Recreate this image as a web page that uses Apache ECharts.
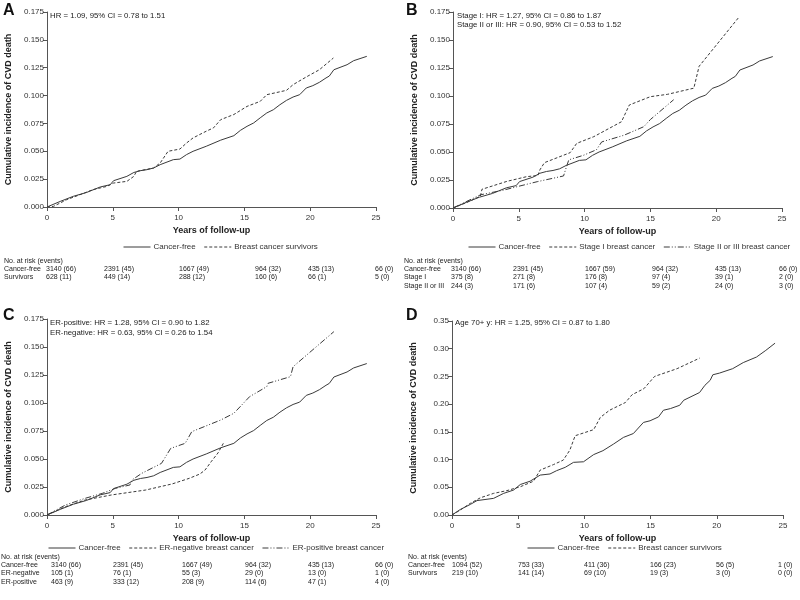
<!DOCTYPE html>
<html>
<head>
<meta charset="utf-8">
<script src="https://cdn.jsdelivr.net/npm/echarts@6/dist/echarts.min.js"></script>
<style>html,body{margin:0;padding:0;background:#fff}#c{width:800px;height:600px}</style>
</head>
<body>
<div id="c"></div>
<script>
// ---------------- DATA ----------------
const xTicks = [0, 5, 10, 15, 20, 25];

const cancerFree = [[0,0],[1.0,0.005],[2,0.0096],[3,0.013],[4.05,0.018],[4.8,0.020],[5.06,0.0236],[6.07,0.0275],[6.6,0.031],[7.1,0.0326],[7.6,0.0335],[8.1,0.035],[8.6,0.038],[9.6,0.0425],[10.1,0.043],[10.6,0.047],[11.1,0.050],[12.1,0.0545],[13.2,0.060],[14.2,0.064],[14.7,0.0688],[15.2,0.0724],[15.7,0.0754],[16.2,0.080],[16.7,0.0844],[17.2,0.0873],[17.7,0.0918],[18.2,0.0957],[18.7,0.0987],[19.2,0.1008],[19.7,0.1068],[20.2,0.1089],[20.7,0.1119],[21.2,0.1158],[21.45,0.1175],[21.8,0.1232],[22.8,0.1277],[23.3,0.1313],[24.3,0.1352]];

const survivorsA = [[0,0],[0.5,0.0006],[1.5,0.0066],[2.5,0.011],[3.5,0.0156],[4.55,0.0185],[5.06,0.0215],[6.07,0.023],[6.6,0.0275],[6.8,0.032],[8.1,0.035],[8.6,0.0395],[9.2,0.050],[10.1,0.052],[10.6,0.0574],[11.1,0.062],[12.1,0.068],[12.65,0.071],[13.2,0.0784],[14.2,0.083],[15.2,0.0903],[16.2,0.0948],[16.7,0.1008],[18.2,0.1047],[18.7,0.1098],[19.7,0.1167],[20.7,0.1232],[21.76,0.1337]];

const stageI = [[0,0],[1.06,0.005],[2.08,0.0105],[2.2,0.0167],[4.1,0.0238],[5.6,0.028],[6.45,0.029],[6.6,0.034],[6.95,0.0405],[8.9,0.0494],[9.4,0.0577],[10.7,0.0637],[12.8,0.077],[13.4,0.092],[15.0,0.0994],[16.3,0.1015],[18.3,0.107],[18.7,0.1265],[21.7,0.170]];

const stageII = [[0,0],[1.06,0.006],[2.1,0.0118],[3.85,0.016],[4.86,0.019],[6.4,0.0235],[8.4,0.0286],[8.6,0.036],[8.8,0.043],[9.9,0.047],[10.9,0.052],[11.3,0.059],[13.0,0.065],[14.5,0.0726],[15.0,0.079],[16.77,0.0967]];

const erNegative = [[0,0],[1.0,0.0054],[1.4,0.0074],[2.9,0.0134],[4.9,0.0179],[7.5,0.0223],[9.5,0.0277],[10.8,0.0327],[11.6,0.0365],[12.0,0.040],[12.5,0.048],[13.0,0.0555],[13.4,0.064]];

const erPositive = [[0,0],[1.4,0.0089],[2.9,0.0149],[4.2,0.0193],[5.2,0.0238],[6.3,0.0268],[6.45,0.0312],[7.2,0.0372],[8.7,0.0461],[9.4,0.0595],[10.5,0.064],[11.0,0.0744],[13.2,0.0848],[14.2,0.0908],[15.4,0.1057],[16.7,0.1146],[16.8,0.1176],[18.5,0.1235],[18.7,0.1324],[21.8,0.1637]];

const cancerFreeD = [[0,0],[0.63,0.010],[1.38,0.019],[1.89,0.026],[3.14,0.030],[3.9,0.039],[4.65,0.045],[5.16,0.055],[5.9,0.061],[6.66,0.072],[7.4,0.074],[7.9,0.080],[8.55,0.086],[9.18,0.095],[9.93,0.096],[10.7,0.109],[11.4,0.116],[12.2,0.128],[12.95,0.140],[13.7,0.147],[14.46,0.167],[14.96,0.170],[15.6,0.177],[15.97,0.189],[16.5,0.192],[17.2,0.198],[17.5,0.207],[18.7,0.221],[19.1,0.234],[19.5,0.243],[19.7,0.253],[20.2,0.256],[21.2,0.264],[22.0,0.275],[23.0,0.285],[23.7,0.297],[24.4,0.310]];

const survivorsD = [[0,0],[0.63,0.009],[1.38,0.021],[2.14,0.031],[3.14,0.039],[4.15,0.044],[5.16,0.051],[6.16,0.061],[6.66,0.081],[7.67,0.091],[8.4,0.099],[8.9,0.117],[9.3,0.143],[10.7,0.154],[11.2,0.176],[11.9,0.189],[13.1,0.203],[13.6,0.217],[14.5,0.228],[15.3,0.250],[17.0,0.264],[18.7,0.283]];

const annotA = ['HR = 1.09, 95% CI = 0.78 to 1.51'];
const annotB = ['Stage I: HR = 1.27, 95% CI = 0.86 to 1.87', 'Stage II or III: HR = 0.90, 95% CI = 0.53 to 1.52'];
const annotC = ['ER-positive: HR = 1.28, 95% CI = 0.90 to 1.82', 'ER-negative: HR = 0.63, 95% CI = 0.26 to 1.54'];
const annotD = ['Age 70+ y: HR = 1.25, 95% CI = 0.87 to 1.80'];

const riskA = [
  ['Cancer-free', '3140 (66)', '2391 (45)', '1667 (49)', '964 (32)', '435 (13)', '66 (0)'],
  ['Survivors', '628 (11)', '449 (14)', '288 (12)', '160 (6)', '66 (1)', '5 (0)']
];
const riskB = [
  ['Cancer-free', '3140 (66)', '2391 (45)', '1667 (59)', '964 (32)', '435 (13)', '66 (0)'],
  ['Stage I', '375 (8)', '271 (8)', '176 (8)', '97 (4)', '39 (1)', '2 (0)'],
  ['Stage II or III', '244 (3)', '171 (6)', '107 (4)', '59 (2)', '24 (0)', '3 (0)']
];
const riskC = [
  ['Cancer-free', '3140 (66)', '2391 (45)', '1667 (49)', '964 (32)', '435 (13)', '66 (0)'],
  ['ER-negative', '105 (1)', '76 (1)', '55 (3)', '29 (0)', '13 (0)', '1 (0)'],
  ['ER-positive', '463 (9)', '333 (12)', '208 (9)', '114 (6)', '47 (1)', '4 (0)']
];
const riskD = [
  ['Cancer-free', '1094 (52)', '753 (33)', '411 (36)', '166 (23)', '56 (5)', '1 (0)'],
  ['Survivors', '219 (10)', '141 (14)', '69 (10)', '19 (3)', '3 (0)', '0 (0)']
];

// ---------------- LAYOUT ----------------
const FONT = 'Liberation Sans, Arial, sans-serif';
const INK = '#333';
const panels = [
  {letter:'A', grid:{left:47, right:424, top:12, bottom:393}, yMax:0.175, yInt:0.025, dec:3,
   letterPos:[3,3], annot:annotA, annotPos:[50,16],
   legendPos:[123,243], risk:riskA, riskLabelX:4, riskCols:[46,104,179,255,308,375], riskY0:261},
  {letter:'B', grid:{left:453, right:18, top:12, bottom:392}, yMax:0.175, yInt:0.025, dec:3,
   letterPos:[406,3], annot:annotB, annotPos:[457,15.5],
   legendPos:[468,243], risk:riskB, riskLabelX:404, riskCols:[451,513,585,652,715,779], riskY0:261},
  {letter:'C', grid:{left:47, right:424, top:319, bottom:85}, yMax:0.175, yInt:0.025, dec:3,
   letterPos:[3,308], annot:annotC, annotPos:[50,323],
   legendPos:[48,544], risk:riskC, riskLabelX:1, riskCols:[51,113,182,245,308,375], riskY0:557},
  {letter:'D', grid:{left:452, right:17, top:321, bottom:85}, yMax:0.35, yInt:0.05, dec:2,
   letterPos:[406,308], annot:annotD, annotPos:[455,323],
   legendPos:[527,544], risk:riskD, riskLabelX:408, riskCols:[452,518,584,650,716,778], riskY0:557}
];
const ROWH = 8.2;

const DASH = [3, 2];
const DASHDOT = [6, 2, 1, 2, 1, 2];

const seriesDefs = [
  {p:0, name:'Cancer-free', data:cancerFree, type:'solid'},
  {p:0, name:'Breast cancer survivors', data:survivorsA, type:DASH},
  {p:1, name:'Cancer-free', data:cancerFree, type:'solid'},
  {p:1, name:'Stage I breast cancer', data:stageI, type:DASH},
  {p:1, name:'Stage II or III breast cancer', data:stageII, type:DASHDOT},
  {p:2, name:'Cancer-free', data:cancerFree, type:'solid'},
  {p:2, name:'ER-negative breast cancer', data:erNegative, type:DASH},
  {p:2, name:'ER-positive breast cancer', data:erPositive, type:DASHDOT},
  {p:3, name:'Cancer-free', data:cancerFreeD, type:'solid'},
  {p:3, name:'Breast cancer survivors', data:survivorsD, type:DASH}
];
const legendNames = [
  ['Cancer-free','Breast cancer survivors'],
  ['Cancer-free','Stage I breast cancer','Stage II or III breast cancer'],
  ['Cancer-free','ER-negative breast cancer','ER-positive breast cancer'],
  ['Cancer-free','Breast cancer survivors']
];

// ---------------- BUILD ----------------
const grids = [], xAxes = [], yAxes = [], legends = [], graphics = [];
const TXT = '7px ' + FONT;
panels.forEach((pn, i) => {
  grids.push(Object.assign({containLabel:false}, pn.grid));
  xAxes.push({
    gridIndex:i, type:'value', min:xTicks[0], max:xTicks[xTicks.length-1], interval:5,
    axisLine:{show:true, onZero:false, lineStyle:{color:'#555', width:1}},
    axisTick:{show:true, length:4, lineStyle:{color:'#555'}},
    splitLine:{show:false},
    axisLabel:{fontSize:8, color:INK, fontFamily:FONT, margin:7},
    name:'Years of follow-up', nameLocation:'middle', nameGap:19,
    nameTextStyle:{fontSize:9, fontWeight:'bold', color:'#222', fontFamily:FONT}
  });
  yAxes.push({
    gridIndex:i, type:'value', min:0, max:pn.yMax, interval:pn.yInt,
    axisLine:{show:true, lineStyle:{color:'#555', width:1}},
    axisTick:{show:true, length:4, lineStyle:{color:'#555'}},
    splitLine:{show:false},
    axisLabel:{fontSize:8, color:INK, fontFamily:FONT, margin:3, formatter:v => v.toFixed(pn.dec)},
    name:'Cumulative incidence of CVD death', nameLocation:'middle', nameGap:34,
    nameTextStyle:{fontSize:9, fontWeight:'bold', color:'#222', fontFamily:FONT}
  });
  legends.push({
    data:legendNames[i], left:pn.legendPos[0], top:pn.legendPos[1], orient:'horizontal',
    itemWidth:27, itemHeight:10, itemGap:8, selectedMode:false, padding:0,
    itemStyle:{opacity:0},
    lineStyle:{width:1},
    textStyle:{fontSize:8, color:INK, fontFamily:FONT, padding:[0,0,0,-2]}
  });
  graphics.push({type:'text', left:pn.letterPos[0], top:pn.letterPos[1],
    style:{text:pn.letter, font:'bold 16px ' + FONT, fill:'#111'}});
  pn.annot.forEach((t, k) => graphics.push({type:'text', x:pn.annotPos[0], y:pn.annotPos[1] + k*9.5,
    style:{text:t, font:'7.8px ' + FONT, fill:'#222', verticalAlign:'middle'}}));
  graphics.push({type:'text', x:pn.riskLabelX, y:pn.riskY0,
    style:{text:'No. at risk (events)', font:TXT, fill:'#222', verticalAlign:'middle'}});
  pn.risk.forEach((row, r) => {
    const y = pn.riskY0 + (r+1)*ROWH;
    graphics.push({type:'text', x:pn.riskLabelX, y:y,
      style:{text:row[0], font:TXT, fill:'#222', verticalAlign:'middle'}});
    row.slice(1).forEach((cell, c) => graphics.push({type:'text', x:pn.riskCols[c], y:y,
      style:{text:cell, font:TXT, fill:'#222', verticalAlign:'middle'}}));
  });
});

const series = seriesDefs.map(s => ({
  type:'line', name:s.name, xAxisIndex:s.p, yAxisIndex:s.p, data:s.data,
  symbol:'none', showSymbol:false, smooth:false, animation:false,
  lineStyle:{color:'#3a3a3a', width:1, type:s.type},
  itemStyle:{color:'#3a3a3a'}
}));

const chart = echarts.init(document.getElementById('c'), null, {renderer:'canvas'});
chart.setOption({
  backgroundColor:'#fff',
  animation:false,
  textStyle:{fontFamily:FONT},
  grid:grids, xAxis:xAxes, yAxis:yAxes, legend:legends,
  series:series, graphic:graphics
});
</script>
</body>
</html>
